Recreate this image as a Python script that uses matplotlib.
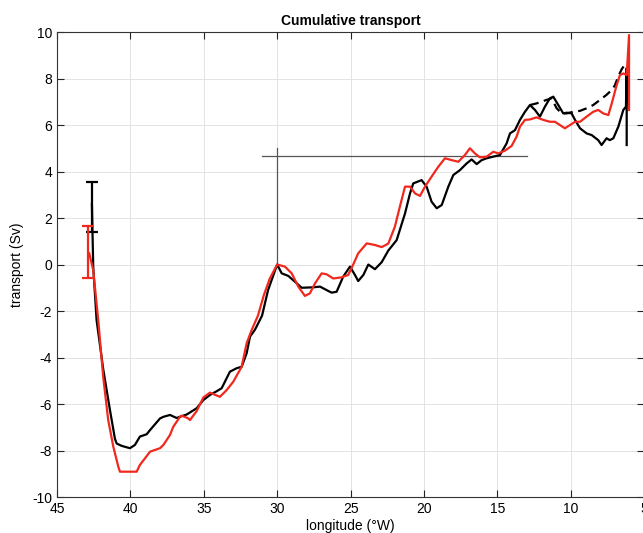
import matplotlib
matplotlib.use("Agg")
import matplotlib.pyplot as plt
import numpy as np

plt.rcParams['font.family'] = ['Liberation Sans', 'DejaVu Sans']
plt.rcParams['axes.unicode_minus'] = False

# longitude (°W) / transport (Sv), solid black curve
lon_black = [42.62, 42.53, 42.30, 41.85, 41.39, 41.05, 40.93, 40.59, 40.03, 39.69,
             39.35, 38.89, 38.66, 37.98, 37.75, 37.30, 36.85, 36.16, 35.48, 35.03,
             34.58, 34.12, 33.78, 33.22, 32.76, 32.42, 32.08, 31.85, 31.51, 31.03,
             30.62, 30.00, 29.69, 29.24, 28.79, 28.33, 27.54, 27.08, 26.63, 26.29,
             25.95, 25.50, 25.04, 24.70, 24.48, 24.13, 23.79, 23.34, 22.88, 22.43,
             21.86, 21.29, 20.95, 20.73, 20.16, 19.82, 19.48, 19.13, 18.79, 18.34,
             18.00, 17.55, 17.09, 16.75, 16.41, 16.07, 15.73, 15.28, 14.82, 14.37,
             14.14, 13.80, 13.46, 13.12, 12.78, 12.44, 12.10, 11.76, 11.42, 11.19,
             10.85, 10.51, 10.28, 9.94, 9.71, 9.37, 8.92, 8.58, 8.13, 7.90,
             7.56, 7.34, 7.10, 6.76, 6.42, 6.24, 6.19, 6.19]
tr_black = [2.6, -0.1, -2.4, -4.5, -6.26, -7.5, -7.7, -7.8, -7.9, -7.76,
            -7.4, -7.3, -7.12, -6.62, -6.55, -6.47, -6.6, -6.45, -6.18, -5.83,
            -5.61, -5.45, -5.32, -4.61, -4.46, -4.4, -3.82, -3.1, -2.8, -2.2,
            -1.1, 0.0, -0.38, -0.49, -0.74, -1.0, -0.98, -0.95, -1.1, -1.21,
            -1.17, -0.52, -0.09, -0.45, -0.71, -0.45, 0.0, -0.2, 0.1, 0.6,
            1.05, 2.2, 3.06, 3.49, 3.63, 3.35, 2.7, 2.42, 2.56, 3.35,
            3.85, 4.06, 4.35, 4.52, 4.32, 4.49, 4.57, 4.64, 4.71, 5.21,
            5.64, 5.78, 6.22, 6.57, 6.86, 6.65, 6.36, 6.79, 7.15, 7.22,
            6.86, 6.5, 6.53, 6.5, 6.22, 5.86, 5.64, 5.57, 5.35, 5.14,
            5.43, 5.35, 5.43, 5.93, 6.65, 6.79, 8.44, 5.14]

# dashed black curve (eastern part only)
lon_dash = [12.78, 12.33, 12.01, 11.65, 11.31, 10.96, 10.62, 10.28, 9.83, 9.37,
            8.92, 8.47, 8.01, 7.56, 7.22, 7.00, 6.76, 6.53, 6.31, 6.19]
tr_dash = [6.86, 6.93, 7.0, 7.08, 7.15, 6.72, 6.5, 6.5, 6.57, 6.61,
           6.72, 6.86, 7.08, 7.3, 7.5, 7.7, 8.1, 8.4, 8.6, 8.44]

# red curve
lon_red = [42.80, 42.53, 42.19, 41.85, 41.51, 41.16, 40.82, 40.71, 39.57, 39.35,
           38.66, 37.98, 37.75, 37.30, 37.08, 36.62, 36.50, 36.05, 35.94, 35.48,
           35.03, 34.58, 33.90, 33.44, 32.99, 32.42, 32.08, 31.74, 31.31, 30.90,
           30.50, 30.00, 29.47, 29.01, 28.56, 28.11, 27.77, 27.42, 26.97, 26.63,
           26.18, 25.61, 25.16, 24.82, 24.48, 23.90, 23.34, 22.88, 22.43, 21.98,
           21.64, 21.29, 20.95, 20.61, 20.27, 19.93, 19.48, 19.03, 18.57, 18.11,
           17.66, 17.21, 16.87, 16.53, 16.19, 15.73, 15.28, 14.94, 14.48, 14.03,
           13.69, 13.46, 13.12, 12.78, 12.33, 11.87, 11.42, 11.08, 10.74, 10.40,
           10.05, 9.71, 9.37, 8.92, 8.47, 8.13, 7.79, 7.44, 7.22, 6.88,
           6.65, 6.42, 6.19, 6.03, 6.03]
tr_red = [0.48, -0.24, -2.39, -4.83, -6.69, -7.84, -8.7, -8.91, -8.91, -8.62,
          -8.05, -7.9, -7.76, -7.33, -6.98, -6.55, -6.5, -6.62, -6.69, -6.3,
          -5.72, -5.51, -5.69, -5.4, -5.04, -4.4, -3.39, -2.82, -2.2, -1.3,
          -0.6, 0.0, -0.09, -0.38, -0.95, -1.35, -1.24, -0.81, -0.38, -0.42,
          -0.6, -0.55, -0.45, 0.0, 0.48, 0.91, 0.84, 0.75, 0.9, 1.63,
          2.49, 3.35, 3.35, 3.06, 2.95, 3.35, 3.78, 4.2, 4.57, 4.49,
          4.42, 4.71, 5.0, 4.78, 4.61, 4.64, 4.85, 4.78, 4.9, 5.1,
          5.5, 5.93, 6.22, 6.24, 6.33, 6.22, 6.14, 6.14, 6.0, 5.86,
          6.0, 6.14, 6.14, 6.36, 6.57, 6.65, 6.5, 6.43, 6.9, 7.7,
          8.15, 8.22, 8.15, 9.87, 6.65]

# error bars at the western boundary
err_lon = [42.62, 42.87]
err_mid = [2.48, 0.545]
err_half = [1.08, 1.115]

# reference lines
hline_lon = [31.0, 13.0]
hline_y = 4.68
vline_lon = 30.0
vline_y = [0.0, 5.0]

red = '#f0281e'

fig = plt.figure(figsize=(6.43, 5.33), dpi=100)
ax = fig.add_axes([0.0886, 0.0675, 0.9132, 0.8724])

ax.grid(True, color='#e3e3e3', linewidth=0.7)
ax.set_axisbelow(True)

ax.plot(hline_lon, [hline_y, hline_y], color='#555555', linewidth=0.9)
ax.plot([vline_lon, vline_lon], vline_y, color='#555555', linewidth=0.9)

ax.plot(lon_dash, tr_dash, color='black', linewidth=1.6, linestyle=(0, (4, 2.5)),
        dash_joinstyle='round')
ax.plot(lon_black, tr_black, color='black', linewidth=1.6, solid_joinstyle='round')
ax.plot(lon_red, tr_red, color=red, linewidth=1.6, solid_joinstyle='round')

ax.errorbar(err_lon[0], err_mid[0], yerr=err_half[0], color='black',
            linewidth=1.6, capsize=4, capthick=1.6)
ax.errorbar(err_lon[1], err_mid[1], yerr=err_half[1], color=red,
            linewidth=1.6, capsize=4, capthick=1.6)

ax.set_xlim(45, 5)
ax.set_ylim(-10, 10)
ax.set_xticks(np.arange(45, 4, -5))
ax.set_yticks(np.arange(-10, 11, 2))
ax.tick_params(direction='in', top=True, right=True, length=5, labelsize=10,
               width=0.8, colors='#222222', labelcolor='black')
for s in ax.spines.values():
    s.set_linewidth(0.8)
    s.set_color('#333333')

ax.set_xlabel('longitude (°W)', fontsize=10, labelpad=2)
ax.set_ylabel('transport (Sv)', fontsize=10, labelpad=6)
ax.set_title('Cumulative transport', fontsize=10, fontweight='bold', pad=5)

fig.savefig('out.png', dpi=100)
